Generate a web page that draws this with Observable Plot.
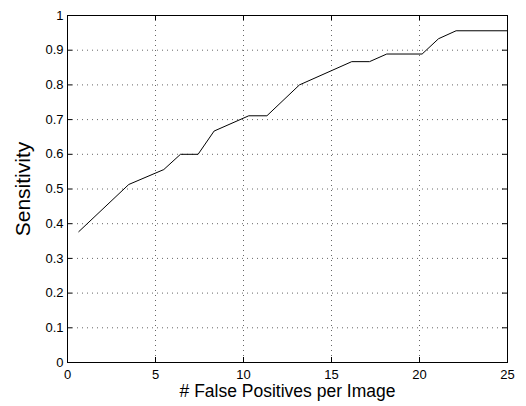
<!DOCTYPE html>
<html><head><meta charset="utf-8">
<script src="https://cdn.jsdelivr.net/npm/d3@7"></script>
<script src="https://cdn.jsdelivr.net/npm/@observablehq/plot@0.6"></script>
<style>body{margin:0;background:#fff}</style>
</head><body><div id="chart"></div>
<script>
const fpPerImage = [0.64, 3.48, 5.47, 6.42, 7.42, 8.33, 10.3, 11.33, 13.18, 16.15, 17.16, 18.14, 20.15, 21.08, 22.08, 25];
const sensitivity = [0.377, 0.513, 0.556, 0.600, 0.600, 0.667, 0.711, 0.711, 0.800, 0.867, 0.867, 0.889, 0.889, 0.933, 0.956, 0.956];
const xTicks = [0, 5, 10, 15, 20, 25];
const yTicks = [0, 0.1, 0.2, 0.3, 0.4, 0.5, 0.6, 0.7, 0.8, 0.9, 1];

const data = fpPerImage.map((x, i) => ({x, y: sensitivity[i]}));
const font = "'Liberation Sans', Arial, Helvetica, sans-serif";
const tx = 25 * 5 / 440, ty = 5 / 347;

const chart = Plot.plot({
  width: 526, height: 406,
  marginLeft: 67, marginRight: 19, marginTop: 15, marginBottom: 44,
  style: {fontFamily: font, background: "#fff", color: "#000"},
  x: {domain: [0, 25], ticks: xTicks},
  y: {domain: [0, 1], ticks: yTicks},
  marks: [
    Plot.gridX(xTicks.slice(1, -1), {stroke: "#000", strokeOpacity: 0.6, strokeDasharray: "1,4"}),
    Plot.gridY(yTicks.slice(1, -1), {stroke: "#000", strokeOpacity: 0.6, strokeDasharray: "1,4"}),
    Plot.ruleX(xTicks, {x: d => d, y1: 0, y2: ty, stroke: "#000"}),
    Plot.ruleX(xTicks, {x: d => d, y1: 1, y2: 1 - ty, stroke: "#000"}),
    Plot.ruleY(yTicks, {y: d => d, x1: 0, x2: tx, stroke: "#000"}),
    Plot.ruleY(yTicks, {y: d => d, x1: 25, x2: 25 - tx, stroke: "#000"}),
    Plot.frame({stroke: "#000"}),
    Plot.axisX(xTicks, {tickSize: 0, tickPadding: 7, fontSize: 13, label: null, tickFormat: d => String(d)}),
    Plot.axisY(yTicks, {tickSize: 0, tickPadding: 4, fontSize: 13, label: null, tickFormat: d => String(d)}),
    Plot.text(["# False Positives per Image"], {frameAnchor: "bottom", textAnchor: "middle", lineAnchor: "bottom", dy: 34, fontSize: 17.5, fill: "#000"}),
    Plot.text(["Sensitivity"], {frameAnchor: "left", textAnchor: "middle", lineAnchor: "bottom", dx: -38, rotate: -90, fontSize: 21, fill: "#000"}),
    Plot.line(data, {x: "x", y: "y", stroke: "#000", strokeWidth: 1})
  ]
});
document.getElementById("chart").appendChild(chart);
</script></body></html>
